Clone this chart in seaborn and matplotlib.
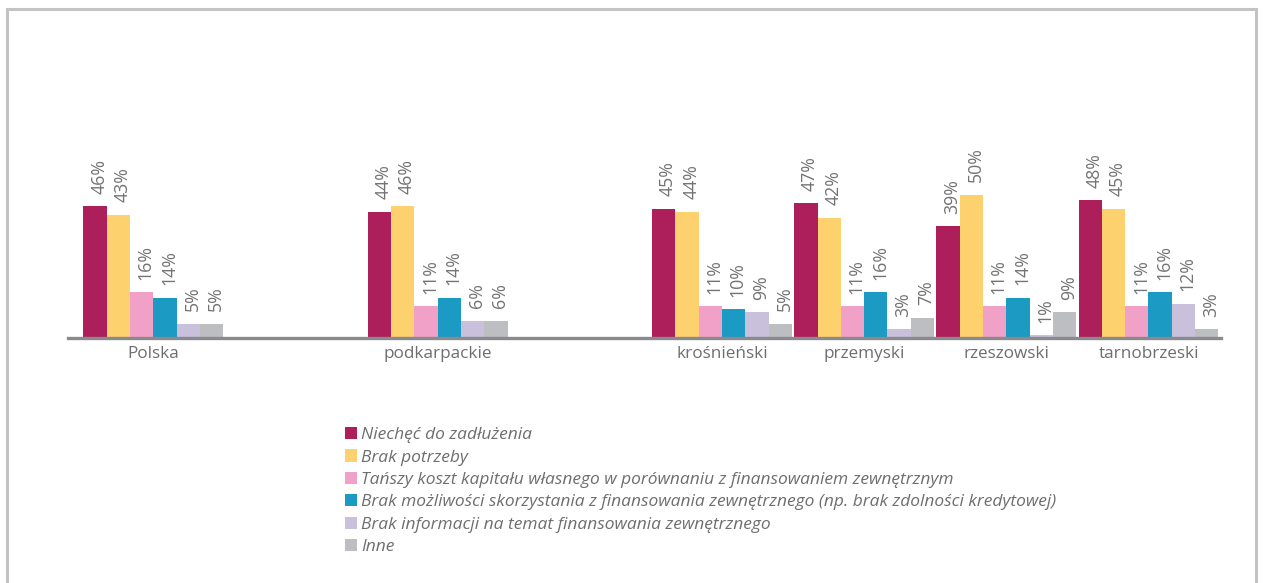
import matplotlib
matplotlib.use("Agg")
import matplotlib.pyplot as plt
from matplotlib.patches import Rectangle
import seaborn as sns
import pandas as pd

# categories (two blank slots keep the gaps between groups)
regions = ["Polska", "podkarpackie", "krośnieński", "przemyski", "rzeszowski", "tarnobrzeski"]
order = ["Polska", " ", "podkarpackie", "  ", "krośnieński", "przemyski", "rzeszowski", "tarnobrzeski"]

reasons = [
    "Niechęć do zadłużenia",
    "Brak potrzeby",
    "Tańszy koszt kapitału własnego w porównaniu z finansowaniem zewnętrznym",
    "Brak możliwości skorzystania z finansowania zewnętrznego (np. brak zdolności kredytowej)",
    "Brak informacji na temat finansowania zewnętrznego",
    "Inne",
]

# percent values per reason, in the order of regions
niechec = [46, 44, 45, 47, 39, 48]
brak_potrzeby = [43, 46, 44, 42, 50, 45]
tanszy = [16, 11, 11, 11, 11, 11]
brak_mozliwosci = [14, 14, 10, 16, 14, 16]
brak_informacji = [5, 6, 9, 3, 1, 12]
inne = [5, 6, 5, 7, 9, 3]

colors = ["#AD1F5B", "#FDD16E", "#F1A1C7", "#1B9AC3", "#C9C0DC", "#BDBEC1"]

rows = []
for reason, vals in zip(reasons, [niechec, brak_potrzeby, tanszy, brak_mozliwosci, brak_informacji, inne]):
    for reg, v in zip(regions, vals):
        rows.append({"region": reg, "reason": reason, "value": v})
df = pd.DataFrame(rows)

sns.set_style("white")
plt.rcParams["font.family"] = ["Open Sans", "DejaVu Sans"]

W, H = 1266, 583
fig = plt.figure(figsize=(W / 100, H / 100), dpi=100)
ax = fig.add_axes([68 / W, (H - 338) / H, (1221 - 68) / W, 172 / H])

sns.barplot(
    data=df, x="region", y="value", hue="reason", order=order, hue_order=reasons,
    palette=colors, width=0.984, linewidth=0, saturation=1, ax=ax, legend=True,
)

for cont in ax.containers:
    texts = ax.bar_label(cont, fmt="{:.0f}%", rotation=90, padding=9,
                         color="#737375", fontsize=12.8)
    for t in texts:
        t.xyann = (3, t.xyann[1])

ax.set_xlim(-0.6, 7.51)
ax.set_ylim(0, 60)
ax.set_xlabel("")
ax.set_ylabel("")
ax.set_yticks([])
for s in ["top", "right", "left"]:
    ax.spines[s].set_visible(False)
ax.spines["bottom"].set_color("#8A898E")
ax.spines["bottom"].set_linewidth(2.4)
ax.tick_params(axis="x", length=0, pad=6, labelsize=12.3, labelcolor="#6E6E70")

handles, labels = ax.get_legend_handles_labels()
ax.legend_.remove()
fig.legend(
    handles, labels, loc="upper left", bbox_to_anchor=(338 / W, 1 - 420 / H),
    frameon=False, handlelength=0.7, handleheight=0.7, handletextpad=0.25,
    labelspacing=0.36, borderaxespad=0,
    prop={"style": "italic", "size": 12.5}, labelcolor="#6E6E70",
)

fig.patches.append(Rectangle((7 / W, -0.1), (1256 - 7) / W, 1.1 - 9 / H,
                             transform=fig.transFigure, fill=False,
                             edgecolor="#C3C3C5", linewidth=2.2))

fig.savefig("out.png", dpi=100)
